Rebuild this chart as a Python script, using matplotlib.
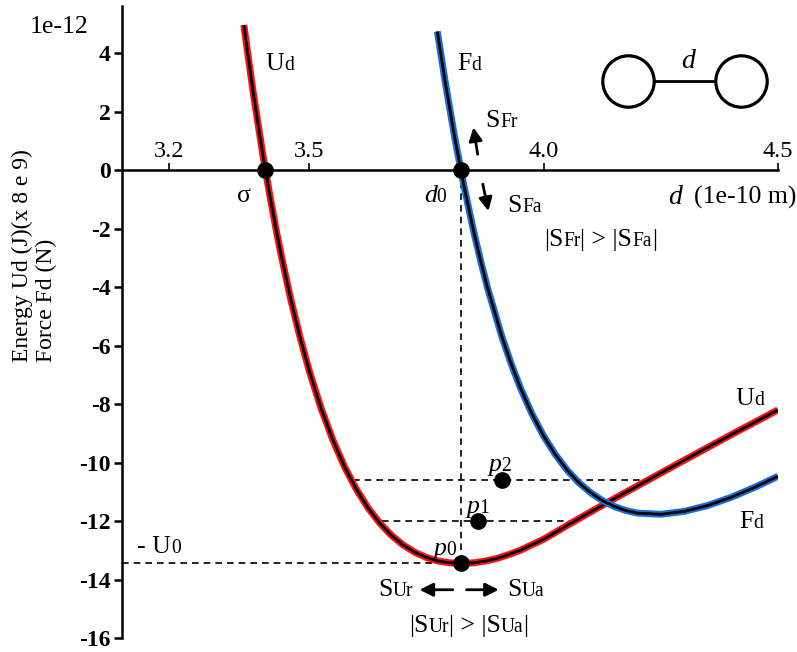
import numpy as np
import matplotlib.pyplot as plt

plt.rcParams['font.family'] = ['Liberation Serif', 'DejaVu Serif']
plt.rcParams['axes.unicode_minus'] = False

# energy curve Ud (x 1e-12, scaled)
ud_d = [3.36, 3.38, 3.40, 3.415, 3.43, 3.44, 3.46, 3.48, 3.50, 3.525, 3.55, 3.575,
        3.60, 3.625, 3.65, 3.675, 3.70, 3.725, 3.75, 3.775, 3.80, 3.825, 3.85, 3.875,
        3.90, 3.925, 3.95, 4.00, 4.025, 4.05, 4.075, 4.10, 4.15, 4.20, 4.30, 4.40, 4.50]
ud_val = [4.96, 2.65, 0.58, -0.83, -2.13, -2.93, -4.41, -5.72, -6.89, -8.15, -9.23, -10.15,
          -10.91, -11.55, -12.07, -12.49, -12.82, -13.07, -13.25, -13.37, -13.43, -13.45, -13.43, -13.37,
          -13.28, -13.15, -13.0, -12.62, -12.39, -12.15, -11.92, -11.69, -11.24, -10.80, -9.92, -9.05, -8.2]

# force curve Fd
fd_d = [3.773, 3.79, 3.81, 3.83, 3.85, 3.865, 3.88, 3.91, 3.93, 3.95, 3.975, 4.00,
        4.025, 4.05, 4.075, 4.10, 4.125, 4.15, 4.175, 4.20, 4.25, 4.30, 4.35, 4.40,
        4.45, 4.50]
fd_val = [4.74, 2.99, 1.12, -0.56, -2.06, -3.08, -4.02, -5.66, -6.60, -7.44, -8.34, -9.10,
          -9.73, -10.26, -10.69, -11.03, -11.30, -11.50, -11.64, -11.73, -11.77, -11.67, -11.47, -11.19,
          -10.85, -10.47]

sigma = 3.406
d0 = 3.823
u0 = 13.45
p_d = [3.823, 3.859, 3.912]
p_val = [-13.45, -12.0, -10.6]
p1_span = [3.655, 4.06]
p2_span = [3.592, 4.224]

x_ticks = [3.2, 3.5, 4.0, 4.5]
x_labels = ['3.2', '3.5', '4.0', '4.5']
y_ticks = [4, 2, 0, -2, -4, -6, -8, -10, -12, -14, -16]
y_labels = [str(v) for v in y_ticks]

fig = plt.figure(figsize=(7.97, 6.52), dpi=100)
ax = fig.add_axes([122 / 797, 14 / 652, 656 / 797, 632 / 652])
ax.set_xlim(3.1, 4.5)
ax.set_ylim(-16, 5.61)

ax.spines['right'].set_visible(False)
ax.spines['bottom'].set_visible(False)
ax.spines['top'].set_position(('data', 0))
ax.spines['top'].set_linewidth(1.8)
ax.spines['left'].set_linewidth(1.8)
ax.xaxis.tick_top()
ax.set_xticks(x_ticks)
ax.set_xticklabels(x_labels, fontsize=17.5)
ax.tick_params(axis='x', direction='out', length=5, width=1.2, pad=1)
ax.set_yticks(y_ticks)
ax.set_yticklabels(y_labels, fontsize=17, fontweight='bold')
ax.tick_params(axis='y', direction='out', length=6, width=1.8, pad=2)

# dashed guides
dash = dict(color='k', lw=1.2, dashes=(4, 3))
ax.plot([3.1, p_d[0]], [-u0, -u0], **dash)
ax.plot([d0, d0], [0, -u0], **dash)
ax.plot(p1_span, [p_val[1]] * 2, **dash)
ax.plot(p2_span, [p_val[2]] * 2, **dash)

# curves: colored halo with black core
ax.plot(ud_d, ud_val, color='#ff1010', lw=5, solid_capstyle='butt', solid_joinstyle='round')
ax.plot(ud_d, ud_val, color='k', lw=2, solid_capstyle='butt', solid_joinstyle='round')
ax.plot(fd_d, fd_val, color='#1a6fd6', lw=5, solid_capstyle='butt', solid_joinstyle='round')
ax.plot(fd_d, fd_val, color='k', lw=2, solid_capstyle='butt', solid_joinstyle='round')

ax.plot([sigma, d0], [0, 0], 'o', color='k', ms=11, clip_on=False)
ax.plot(p_d, p_val, 'o', color='k', ms=11)

renderer = fig.canvas.get_renderer()


def rich(x, y, parts, size=18.5, ha='left', coords='data'):
    # parts: list of (text, small, italic)
    anns = []
    total = 0
    for txt, small, italic in parts:
        a = ax.annotate(txt, xy=(x, y), xycoords=coords, xytext=(0, 0),
                        textcoords='offset pixels', va='baseline', ha='left',
                        fontsize=size * 0.76 if small else size,
                        style='italic' if italic else 'normal', annotation_clip=False)
        w = a.get_window_extent(renderer).width
        anns.append((a, w))
        total += w
    off = -total / 2 if ha == 'center' else 0
    for a, w in anns:
        a.xyann = (off, 0)
        off += w


rich(3.406, 3.41, [('U', 0, 0), ('d', 1, 0)])
rich(3.816, 3.41, [('F', 0, 0), ('d', 1, 0)])
rich(3.346, -1.09, [('σ', 0, 0)])
rich(3.744, -1.09, [('d', 0, 1), ('0', 1, 0)])
rich(3.876, 1.47, [('S', 0, 0), ('Fr', 1, 0)])
rich(3.923, -1.43, [('S', 0, 0), ('Fa', 1, 0)])
rich(4.0, -2.6, [('|S', 0, 0), ('Fr', 1, 0), ('| > |S', 0, 0), ('Fa', 1, 0), ('|', 0, 0)])
rich(4.265, -1.16, [('d', 0, 1)], size=20)
rich(4.321, -1.16, [('(1e-10 m)', 0, 0)])
rich(4.41, -8.04, [('U', 0, 0), ('d', 1, 0)])
rich(4.417, -12.24, [('F', 0, 0), ('d', 1, 0)])
rich(3.765, -13.16, [('p', 0, 1), ('0', 1, 0)])
rich(3.835, -11.72, [('p', 0, 1), ('1', 1, 0)])
rich(3.882, -10.29, [('p', 0, 1), ('2', 1, 0)])
rich(3.132, -13.09, [('- U', 0, 0), ('0', 1, 0)])
rich(3.647, -14.57, [('S', 0, 0), ('Ur', 1, 0)])
rich(3.923, -14.57, [('S', 0, 0), ('Ua', 1, 0)])
rich(3.712, -15.81, [('|S', 0, 0), ('Ur', 1, 0), ('| > |S', 0, 0), ('Ua', 1, 0), ('|', 0, 0)])
rich(2.904, 4.70, [('1e-12', 0, 0)])

# arrows
arr = dict(arrowstyle='-|>', color='k', lw=2, mutation_scale=20, shrinkA=0, shrinkB=0)
ax.annotate('', xy=(3.850, 1.46), xytext=(3.859, 0.54), arrowprops=arr)
ax.annotate('', xy=(3.882, -1.40), xytext=(3.870, -0.48), arrowprops=arr)
ax.annotate('', xy=(3.735, -14.35), xytext=(3.806, -14.35), arrowprops=arr)
ax.annotate('', xy=(3.904, -14.35), xytext=(3.835, -14.35), arrowprops=arr)

# molecule sketch
ax.plot([4.21, 4.39], [3.06, 3.06], color='k', lw=2)
ax.plot([4.179, 4.421], [3.06, 3.06], 'o', ms=37, mfc='white', mec='k', mew=2.3)
rich(4.293, 3.48, [('d', 0, 1)], size=20)

fig.text(22 / 797, 1 - 362 / 652, 'Energy Ud (J)(x 8 e 9)', rotation=90,
         ha='center', va='bottom', fontsize=17)
fig.text(46 / 797, 1 - 362 / 652, 'Force Fd (N)', rotation=90,
         ha='center', va='bottom', fontsize=17)

fig.savefig('out.png', dpi=100)
